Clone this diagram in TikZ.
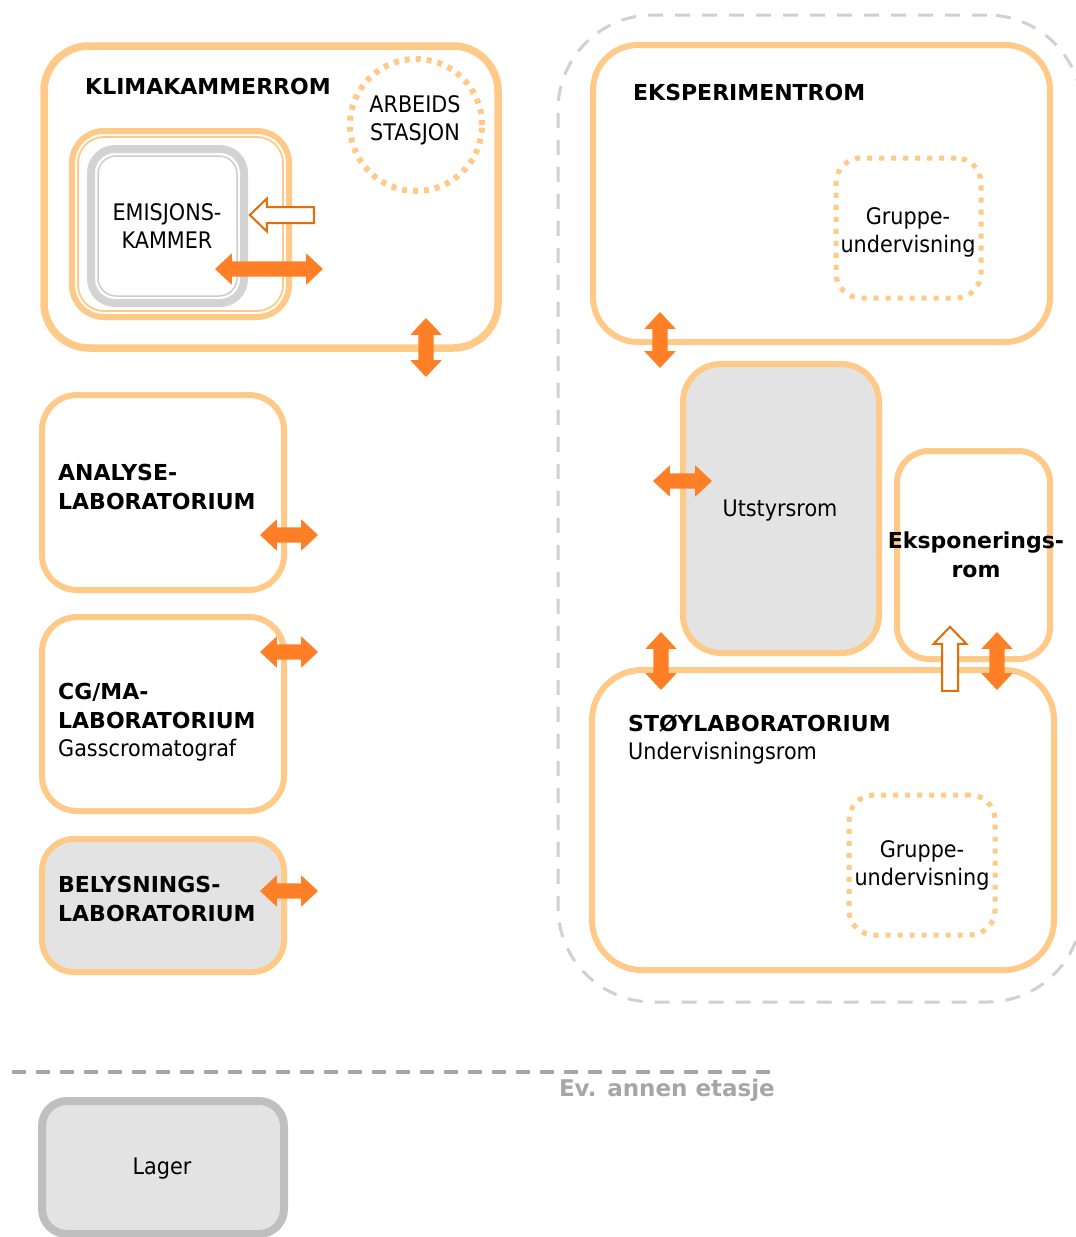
\documentclass[tikz,border=0pt]{standalone}
\usepackage{fontspec}
\setmainfont{DejaVu Sans}
\newfontfamily\nf{DejaVu Sans}[FakeStretch=0.91]
\usetikzlibrary{shapes.arrows,shapes.geometric}
\definecolor{orangeL}{RGB}{255,201,135}
\definecolor{arrowc}{RGB}{255,127,39}
\definecolor{hollowc}{RGB}{228,108,10}
\definecolor{grayfill}{RGB}{227,227,227}
\definecolor{grayline}{RGB}{211,211,211}
\definecolor{grayline2}{RGB}{204,204,204}
\definecolor{lagerline}{RGB}{191,191,191}
\definecolor{sepgray}{RGB}{166,166,166}
\definecolor{regiongray}{RGB}{208,208,208}
\tikzset{
  room/.style={draw=orangeL, line width=6pt, rectangle, rounded corners=#1, inner sep=0pt},
  room/.default=35pt,
  dotbox/.style={draw=orangeL, line width=5pt, rectangle, rounded corners=25pt, inner sep=0pt, dash pattern=on 5pt off 7pt},
  bt/.style={font=\fontsize{22}{28.5}\selectfont\bfseries, inner sep=0pt, text=black},
  nt/.style={font=\fontsize{22.8}{28.5}\selectfont\nf, inner sep=0pt, text=black},
  dbl/.style={double arrow, fill=arrowc, draw=none, inner xsep=0pt, inner ysep=7.5pt, double arrow head extend=8pt, double arrow tip angle=86, minimum height=#1},
  hollow/.style={single arrow, fill=white, draw=hollowc, line width=2pt, inner xsep=0pt, inner ysep=7pt, single arrow head extend=8.5pt, single arrow tip angle=88, minimum height=#1},
}
\begin{document}
\begin{tikzpicture}[x=1pt,y=-1pt]
\useasboundingbox (0,0) rectangle (1076,1237);
% right dashed region
\node[draw=regiongray, line width=3pt, dash pattern=on 15pt off 12pt, rectangle, rounded corners=95pt, minimum width=524pt, minimum height=987pt, inner sep=0pt] (region) at (820,508.5) {};
% KLIMAKAMMERROM
\node[room=45pt, line width=7.5pt, minimum width=454pt, minimum height=302pt] (klima) at (271,197) {};
\node[bt, anchor=north west] (klimaT) at (85,78) {KLIMAKAMMERROM};
\node[draw=orangeL, line width=6pt, rectangle, rounded corners=32pt, minimum width=217pt, minimum height=186pt, inner sep=0pt] (kamO) at (180.5,224) {};
\node[draw=orangeL, line width=1.8pt, rectangle, rounded corners=26pt, minimum width=205pt, minimum height=174pt, inner sep=0pt] (kamI) at (180.5,224) {};
\node[draw=grayline, line width=8pt, rectangle, rounded corners=24pt, minimum width=153pt, minimum height=154pt, inner sep=0pt] (emO) at (167.5,226) {};
\node[draw=grayline2, line width=1.5pt, rectangle, rounded corners=18pt, minimum width=139pt, minimum height=140pt, inner sep=0pt] (emI) at (167.5,226) {};
\node[nt, align=center, anchor=north] (emT) at (167,203) {EMISJONS-\\KAMMER};
\node[circle, draw=orangeL, line width=6pt, dash pattern=on 5pt off 6pt, minimum size=132pt, inner sep=0pt] (arb) at (416,125) {};
\node[nt, align=center, anchor=north] (arbT) at (415,95) {ARBEIDS\\STASJON};
% left rooms
\node[room, minimum width=242pt, minimum height=195pt] (ana) at (163,492.5) {};
\node[bt, align=left, anchor=north west] (anaT) at (58,464) {ANALYSE-\\LABORATORIUM};
\node[room, minimum width=242pt, minimum height=194pt] (cg) at (163,714) {};
\node[bt, align=left, anchor=north west] (cgT) at (58,683) {CG/MA-\\LABORATORIUM\\{\nf\mdseries\fontsize{22.8}{28.5}\selectfont Gasscromatograf}};
\node[room=32pt, fill=grayfill, minimum width=242pt, minimum height=133pt] (bel) at (163,905.5) {};
\node[bt, align=left, anchor=north west] (belT) at (58,876) {BELYSNINGS-\\LABORATORIUM};
% separator
\coordinate (sepA) at (12,1072);
\coordinate (sepB) at (775,1072);
\draw[sepgray, line width=4pt, dash pattern=on 14pt off 10pt] (sepA) -- (sepB);
\node[font=\fontsize{23}{28}\selectfont\bfseries, text=sepgray, inner sep=0pt, anchor=north east] (etasje) at (775,1079) {Ev. annen etasje};
\node[draw=lagerline, line width=8pt, fill=grayfill, rectangle, rounded corners=25pt, minimum width=242pt, minimum height=133pt, inner sep=0pt] (lager) at (163,1167.5) {};
\node[nt] (lagerT) at (162,1169) {Lager};
% right rooms
\node[room=45pt, minimum width=457pt, minimum height=297pt] (eksp) at (821.5,193.5) {};
\node[bt, anchor=north west] (ekspT) at (633,84) {EKSPERIMENTROM};
\node[dotbox, minimum width=145pt, minimum height=140pt] (grp1) at (908.5,228) {};
\node[nt, align=center, anchor=north] (grp1T) at (908,207) {Gruppe-\\undervisning};
\node[room=38pt, fill=grayfill, minimum width=196pt, minimum height=289pt] (utst) at (781,508.5) {};
\node[nt, anchor=north] (utstT) at (780,500) {Utstyrsrom};
\node[room=32pt, minimum width=153pt, minimum height=208pt] (ekspon) at (973.5,555) {};
\node[bt, align=center, anchor=north] (eksponT) at (976,532) {Eksponerings-\\rom};
\node[room=50pt, minimum width=462pt, minimum height=300pt] (stoy) at (823,820) {};
\node[bt, align=left, anchor=north west] (stoyT) at (628,714) {STØYLABORATORIUM\\{\nf\mdseries\fontsize{22.8}{28.5}\selectfont Undervisningsrom}};
\node[dotbox, minimum width=146pt, minimum height=140pt] (grp2) at (922,865) {};
\node[nt, align=center, anchor=north] (grp2T) at (922,840) {Gruppe-\\undervisning};
% arrows
\node[hollow=64pt, rotate=180] (aIn) at (286,215) {};
\node[dbl=108pt] (aKam) at (269,269) {};
\node[dbl=59pt, rotate=90] (aKlima) at (426,347.5) {};
\node[dbl=58pt] (aAna) at (289,535) {};
\node[dbl=58pt] (aCg) at (289,652) {};
\node[dbl=58pt] (aBel) at (289,891) {};
\node[dbl=56pt, rotate=90] (aEksp) at (660,340) {};
\node[dbl=59pt] (aUtst) at (682.5,481) {};
\node[dbl=58pt, rotate=90] (aStoy) at (661,661) {};
\node[hollow=64pt, rotate=90] (aUp) at (950,663) {};
\node[dbl=58pt, rotate=90] (aEkspon) at (997,661) {};
\end{tikzpicture}
\end{document}
